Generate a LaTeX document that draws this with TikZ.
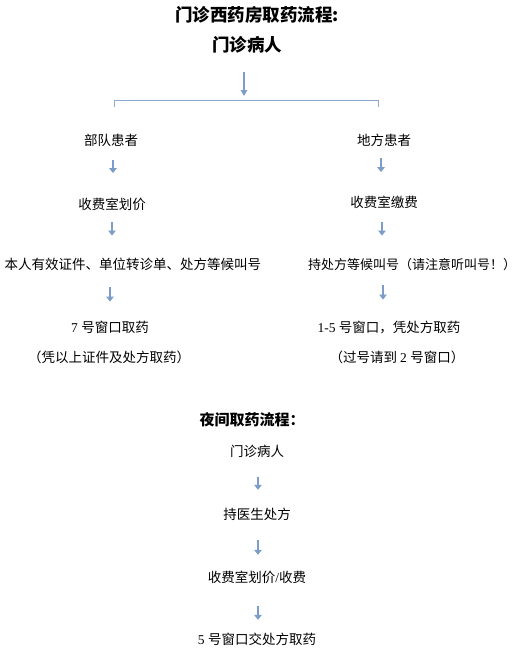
\documentclass[tikz,border=0pt]{standalone}
\usepackage{fontspec}
\setmainfont{Noto Sans CJK SC}
\newfontfamily\lat{Liberation Serif}
\usetikzlibrary{arrows.meta}
\definecolor{arrc}{HTML}{7B9DC7}
\definecolor{brc}{HTML}{8EA9CF}
\tikzset{
  txt/.style={inner sep=0pt, font=\fontsize{13.5}{15}\selectfont, text height=11.5pt, text depth=2pt},
  txtsm/.style={txt, font=\fontsize{13}{15}\selectfont},
  ttl/.style={inner sep=0pt, font=\fontsize{17.5}{20}\selectfont\bfseries, text height=15pt, text depth=2.5pt},
  ttlsm/.style={inner sep=0pt, font=\fontsize{15}{18}\selectfont\bfseries, text height=13pt, text depth=2pt},
  arr/.style={draw=arrc, line width=2.6pt, -{Triangle[width=7.5pt,length=5pt]}},
  arrtop/.style={draw=arrc, line width=1.6pt, -{Triangle[width=6.5pt,length=6pt]}},
  brk/.style={draw=brc, line width=1pt},
}
\begin{document}
\begin{tikzpicture}[x=1pt,y=-1pt]
\useasboundingbox (0,0) rectangle (520,654);
% titles
\node[ttl] (title) at (257,15) {门诊西药房取药流程:};
\node[ttl] (top) at (247,45) {门诊病人};
\coordinate (bt) at (244,100);
\coordinate (bl) at (114,107);
\coordinate (br) at (378,107);
\draw[brk] (bl) -- (bl |- bt) -- (br |- bt) -- (br);
\draw[arrtop, shorten <=18pt, shorten >=4pt] (top.south -| bt) -- (bt);
% left column
\node[txt] (l1) at (111,141) {部队患者};
\node[txt] (l2) at (112,205) {收费室划价};
\node[txt] (l3) at (133,265) {本人有效证件、单位转诊单、处方等候叫号};
\node[txt] (l4) at (110,328) {{\lat 7 }号窗口取药};
\node[txt] (l5) at (109,358) {（凭以上证件及处方取药）};
\draw[arr, shorten <=12pt, shorten >=25pt] ([xshift=2pt]l1.south) -- ([xshift=2pt]l1.south |- l2.north);
\draw[arr, shorten <=10.5pt, shorten >=22.5pt] (l2.south) -- (l2.south |- l3.north);
\draw[arr, shorten <=15.5pt, shorten >=19.5pt] (l3.south -| l4.north) -- (l4.north);
% right column
\node[txt] (r1) at (384,141) {地方患者};
\node[txt] (r2) at (384,203) {收费室缴费};
\node[txtsm] (r3) at (412,265) {持处方等候叫号（请注意听叫号！）};
\node[txt] (r4) at (389,328) {{\lat 1-5 }号窗口，凭处方取药};
\node[txt] (r5) at (397,358) {（过号请到 {\lat 2 }号窗口）};
\draw[arr, shorten <=10.5pt, shorten >=24pt] ([xshift=-3pt]r1.south) -- ([xshift=-3pt]r1.south |- r2.north);
\draw[arr, shorten <=12.5pt, shorten >=22.5pt] ([xshift=-2pt]r2.south) -- ([xshift=-2pt]r2.south |- r3.north);
\draw[arr, shorten <=13.5pt, shorten >=21.5pt] ([xshift=-6pt]r3.south -| r4.north) -- ([xshift=-6pt]r4.north);
% night
\node[ttlsm] (n0) at (252,420) {夜间取药流程：};
\node[txt] (n1) at (257,452) {门诊病人};
\node[txt] (n2) at (257,515) {持医生处方};
\node[txt] (n3) at (257,578) {收费室划价{\lat /}收费};
\node[txt] (n4) at (257,640) {{\lat 5 }号窗口交处方取药};
\draw[arr, shorten <=18.25pt, shorten >=18.25pt] ([xshift=1pt]n1.south) -- ([xshift=1pt]n2.north);
\draw[arr, shorten <=18.25pt, shorten >=16.25pt] ([xshift=1pt]n2.south) -- ([xshift=1pt]n3.north);
\draw[arr, shorten <=21.25pt, shorten >=13.25pt] ([xshift=1pt]n3.south) -- ([xshift=1pt]n4.north);
\end{tikzpicture}
\end{document}
